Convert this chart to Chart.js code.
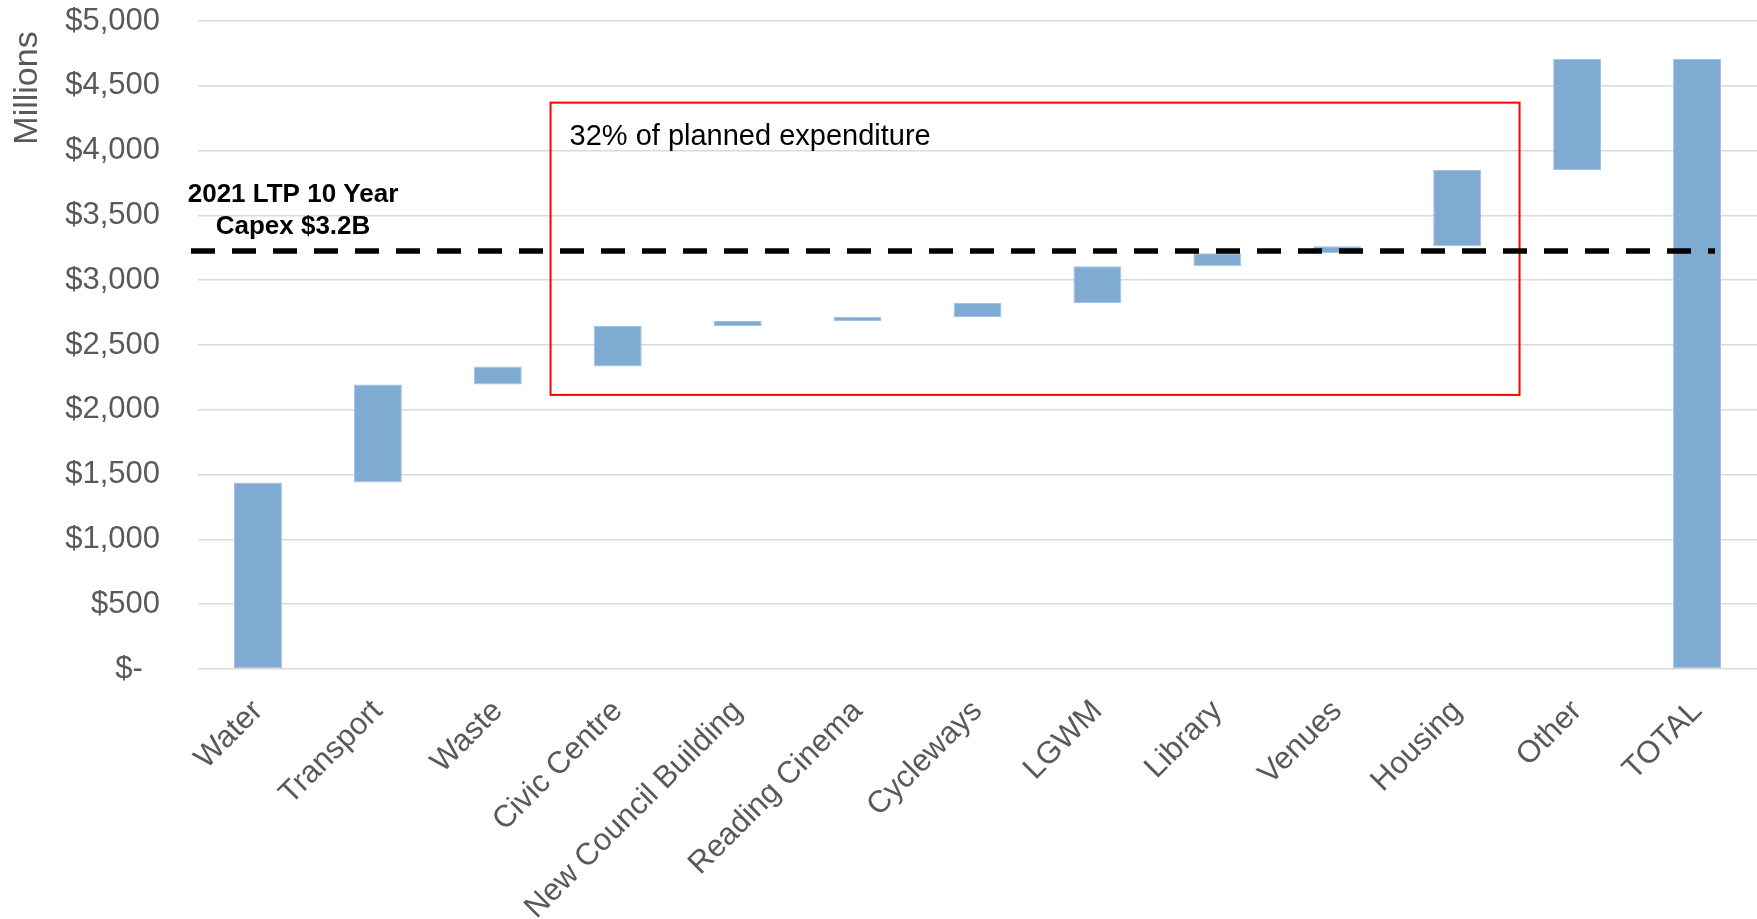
<!DOCTYPE html>
<html>
<head>
<meta charset="utf-8">
<script src="https://cdn.jsdelivr.net/npm/chart.js@4"></script>
<style>
  html, body { margin: 0; padding: 0; background: #fff; }
  #wrap { width: 1757px; height: 919px; }
</style>
</head>
<body>
<div id="wrap"><canvas id="chart" width="1757" height="919"></canvas></div>
<script>
// values, $ millions
const categories = ['Water', 'Transport', 'Waste', 'Civic Centre', 'New Council Building',
  'Reading Cinema', 'Cycleways', 'LGWM', 'Library', 'Venues', 'Housing', 'Other', 'TOTAL'];
const amounts = [1440, 755, 140, 312, 38, 31, 108, 283, 100, 54, 589, 859, 4709];
const isTotal = [false, false, false, false, false, false, false, false, false, false, false, false, true];
const yTicks = [0, 500, 1000, 1500, 2000, 2500, 3000, 3500, 4000, 4500, 5000];

const ltpCapex = 3225;                 // 2021 LTP 10 year capex line
const boxRange = { x0: 2.44, x1: 10.52, y0: 2115, y1: 4370 }; // highlighted region

// waterfall: floating bars from the running total
let running = 0;
const ranges = amounts.map((v, i) => {
  if (isTotal[i]) return [0, v];
  const r = [running, running + v];
  running += v;
  return r;
});

const FONT = '"Liberation Sans", Arial, sans-serif';
const GREY = '#595959';

const overlay = {
  id: 'overlay',
  afterDatasetsDraw(chart) {
    const ctx = chart.ctx;
    const x = chart.scales.x, y = chart.scales.y;
    const area = chart.chartArea;
    ctx.save();

    // red box
    const bx0 = x.getPixelForValue(boxRange.x0), bx1 = x.getPixelForValue(boxRange.x1);
    const by0 = y.getPixelForValue(boxRange.y1), by1 = y.getPixelForValue(boxRange.y0);
    ctx.strokeStyle = '#ff0000';
    ctx.lineWidth = 2;
    ctx.strokeRect(bx0, by0, bx1 - bx0, by1 - by0);
    ctx.fillStyle = '#000';
    ctx.font = '29px ' + FONT;
    ctx.textAlign = 'left';
    ctx.textBaseline = 'alphabetic';
    ctx.fillText('32% of planned expenditure', bx0 + 19, by0 + 42);

    // dashed LTP line
    const ly = y.getPixelForValue(ltpCapex);
    ctx.strokeStyle = '#000';
    ctx.lineWidth = 5.5;
    ctx.setLineDash([24, 17]);
    ctx.beginPath();
    ctx.moveTo(area.left - 7, ly);
    ctx.lineTo(x.getPixelForValue(categories.length - 1) + 18, ly);
    ctx.stroke();
    ctx.setLineDash([]);

    ctx.font = 'bold 26px ' + FONT;
    ctx.textAlign = 'center';
    ctx.textBaseline = 'middle';
    ctx.fillText('2021 LTP 10 Year', 293, ly - 56);
    ctx.fillText('Capex $3.2B', 293, ly - 24);

    // axis title
    ctx.fillStyle = GREY;
    ctx.font = '34px ' + FONT;
    ctx.translate(28, 88);
    ctx.rotate(-Math.PI / 2);
    ctx.fillText('Millions', 0, 0);
    ctx.restore();
  }
};

new Chart(document.getElementById('chart'), {
  type: 'bar',
  data: {
    labels: categories,
    datasets: [{
      data: ranges,
      backgroundColor: '#7faad2',
      borderColor: '#a3c2e2',
      borderWidth: 1,
      borderSkipped: false,
      categoryPercentage: 1,
      barPercentage: 0.4
    }]
  },
  options: {
    responsive: false,
    animation: false,
    layout: { padding: { top: 21, right: 0, left: 0, bottom: 0 } },
    plugins: { legend: { display: false }, tooltip: { enabled: false } },
    scales: {
      x: {
        grid: { display: false },
        border: { display: false },
        ticks: {
          autoSkip: false, maxRotation: 45, minRotation: 45, padding: 16,
          color: GREY, font: { family: FONT, size: 31 }
        },
        afterFit(s) { s.height = 250; s.paddingLeft = 0; s.paddingRight = 0; }
      },
      y: {
        min: 0, max: 5000,
        afterBuildTicks(s) { s.ticks = yTicks.map(v => ({ value: v })); },
        grid: { color: '#d9d9d9', lineWidth: 1.6, drawTicks: false },
        border: { display: false },
        ticks: {
          padding: 38, color: GREY, font: { family: FONT, size: 31 },
          callback: v => v === 0 ? '$-  ' : '$' + v.toLocaleString('en-US')
        },
        afterFit(s) { s.width = 198; s.paddingTop = 0; s.paddingBottom = 0; }
      }
    }
  },
  plugins: [overlay]
});
</script>
</body>
</html>
